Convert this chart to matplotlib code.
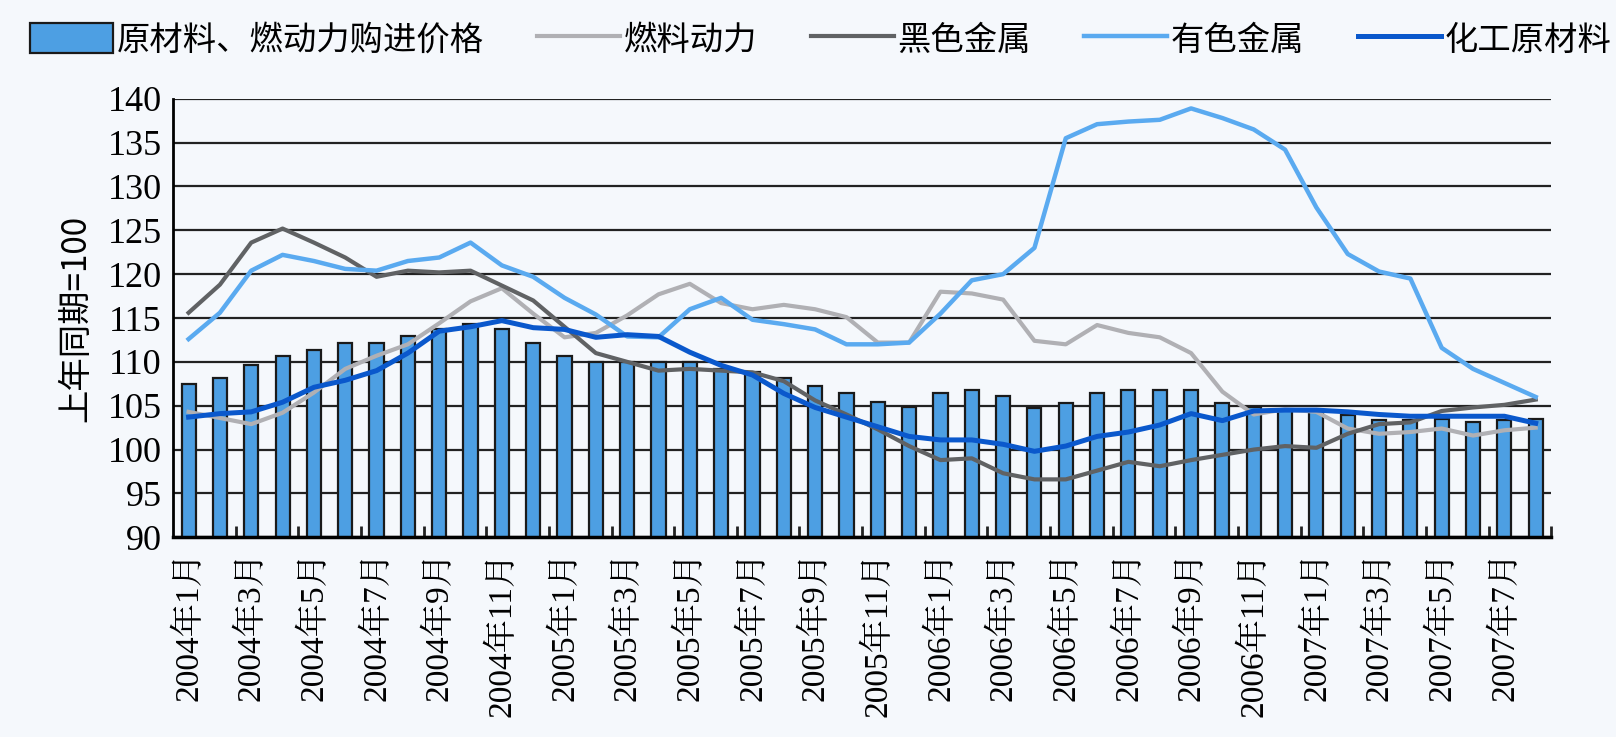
import os
import matplotlib
matplotlib.use('Agg')
import matplotlib.pyplot as plt
from matplotlib.font_manager import FontProperties
import numpy as np

serif_cjk = ['Liberation Serif', 'Noto Serif CJK SC', 'Noto Sans CJK SC']
sans_cjk = ['Noto Sans CJK SC', 'DejaVu Sans']
serif_path = '/usr/share/fonts/truetype/liberation/LiberationSerif-Regular.ttf'

# 2004年1月 ... 2007年8月
months = [f'{y}年{m}月' for y in range(2004, 2008) for m in range(1, 13)][:44]

purchase_price = [107.5, 108.2, 109.6, 110.7, 111.4, 112.1, 112.1, 113.0, 113.7, 114.3,
                  113.7, 112.1, 110.7, 110.0, 110.0, 110.0, 110.0, 109.2, 108.8, 108.2,
                  107.2, 106.4, 105.4, 104.9, 106.5, 106.8, 106.1, 104.7, 105.3, 106.5,
                  106.8, 106.8, 106.8, 105.3, 104.8, 104.5, 104.5, 103.9, 103.4, 103.4,
                  103.5, 103.2, 103.4, 103.5]
fuel_power = [104.3, 103.6, 102.9, 104.2, 106.5, 109.2, 110.7, 112.0, 114.4, 116.9,
              118.4, 115.5, 112.8, 113.3, 115.3, 117.7, 118.9, 116.7, 116.0, 116.5,
              116.0, 115.1, 112.2, 112.2, 118.0, 117.8, 117.1, 112.4, 112.0, 114.2,
              113.3, 112.8, 111.0, 106.6, 104.0, 104.6, 104.3, 102.4, 101.8, 102.0,
              102.4, 101.6, 102.2, 102.5]
ferrous = [115.6, 118.8, 123.6, 125.2, 123.6, 121.9, 119.7, 120.4, 120.2, 120.4,
           118.7, 117.0, 114.0, 111.0, 110.0, 109.0, 109.2, 109.0, 108.8, 107.8,
           105.6, 104.0, 102.3, 100.4, 98.8, 99.0, 97.3, 96.6, 96.6, 97.6,
           98.6, 98.1, 98.8, 99.4, 100.0, 100.4, 100.2, 101.8, 102.9, 103.1,
           104.4, 104.8, 105.1, 105.7]
nonferrous = [112.6, 115.6, 120.4, 122.2, 121.5, 120.6, 120.4, 121.5, 121.9, 123.6,
              121.0, 119.7, 117.3, 115.4, 112.9, 112.8, 116.0, 117.3, 114.8, 114.3,
              113.7, 112.0, 112.0, 112.2, 115.5, 119.3, 120.0, 123.0, 135.5, 137.1,
              137.4, 137.6, 138.9, 137.8, 136.5, 134.2, 127.6, 122.3, 120.3, 119.5,
              111.6, 109.2, 107.6, 106.0]
chemical = [103.7, 104.1, 104.3, 105.4, 107.1, 107.9, 109.0, 111.0, 113.5, 114.0,
            114.7, 113.9, 113.7, 112.8, 113.1, 112.9, 111.1, 109.6, 108.5, 106.4,
            104.8, 103.7, 102.6, 101.5, 101.1, 101.1, 100.6, 99.8, 100.4, 101.5,
            102.0, 102.8, 104.1, 103.3, 104.4, 104.5, 104.5, 104.3, 104.0, 103.8,
            103.8, 103.8, 103.8, 103.0]

bg = '#f5f8fc'
fig = plt.figure(figsize=(16.16, 7.37), dpi=100, facecolor=bg)
ax = fig.add_axes([0.107, 0.271, 0.853, 0.595], facecolor=bg)

x = np.arange(len(months))
ax.set_axisbelow(True)
ax.yaxis.grid(True, color='#222222', linewidth=1.6)
bars = ax.bar(x, purchase_price, width=0.45, color='#4d9fe3',
              edgecolor='#1a1a1a', linewidth=1.6, zorder=2)
l1, = ax.plot(x, fuel_power, color='#b0b0b4', linewidth=3, zorder=3)
l2, = ax.plot(x, ferrous, color='#606264', linewidth=3, zorder=3)
l3, = ax.plot(x, nonferrous, color='#5aaaf0', linewidth=3.2, zorder=3)
l4, = ax.plot(x, chemical, color='#0a58cc', linewidth=3.6, zorder=4)

ax.set_ylim(90, 140)
yticks = np.arange(90, 141, 5)
ax.set_yticks(yticks)
ax.set_xlim(-0.5, len(months) - 0.5)
ax.set_xticks(x[::2])
ax.set_xticks(np.arange(1.5, len(months), 2), minor=True)
ax.tick_params(axis='x', which='major', length=0, pad=10)
ax.tick_params(axis='x', which='minor', direction='in', length=8, width=2, color='#222222')
ax.tick_params(axis='y', length=0, pad=8)
ax.set_yticklabels([str(v) for v in yticks])
ax.set_xticklabels(months[::2], rotation=90)
for lbl in ax.get_yticklabels():
    if os.path.exists(serif_path):
        lbl.set_fontproperties(FontProperties(fname=serif_path, size=26))
    else:
        lbl.set_fontfamily(serif_cjk)
        lbl.set_fontsize(26)
for lbl in ax.get_xticklabels():
    lbl.set_fontfamily(serif_cjk)
    lbl.set_fontsize(24)
for s in ['top', 'right']:
    ax.spines[s].set_visible(False)
ax.spines['left'].set_linewidth(2)
ax.spines['bottom'].set_linewidth(2.5)
ax.set_ylabel('上年同期=100', fontsize=24, labelpad=10, family=sans_cjk)

fig.legend([bars, l1, l2, l3, l4],
           ['原材料、燃动力购进价格', '燃料动力', '黑色金属', '有色金属', '化工原材料'],
           loc='upper left', bbox_to_anchor=(0.0, 1.01), ncol=5, frameon=False,
           handlelength=2.5, handleheight=1.0, handletextpad=0.1, columnspacing=1.6,
           prop={'family': sans_cjk, 'size': 24})

fig.savefig('out.png', dpi=100, facecolor=bg)
